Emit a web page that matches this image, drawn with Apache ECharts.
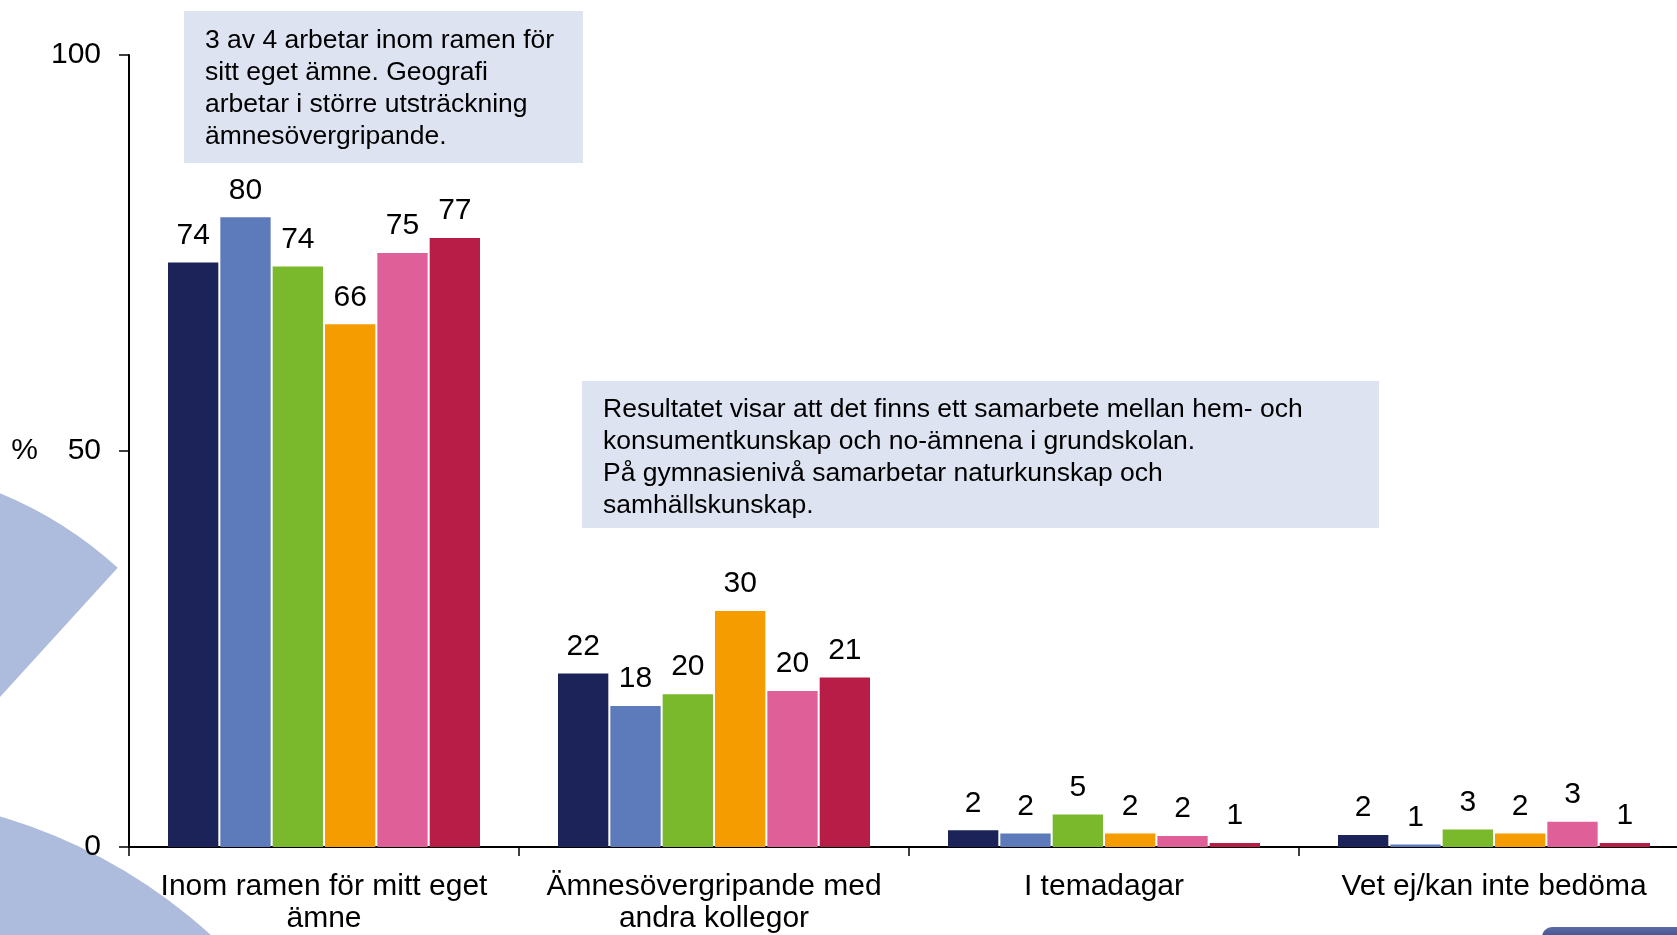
<!DOCTYPE html>
<html>
<head>
<meta charset="utf-8">
<script src="https://cdn.jsdelivr.net/npm/echarts@6/dist/echarts.min.js"></script>
<style>
  html, body { margin: 0; padding: 0; background: #fff; overflow: hidden; }
  /* plot runs slightly past the right edge of the window, like the original slide */
  #chart { width: 1692px; height: 935px; }
</style>
</head>
<body>
<div id="chart"></div>
<script>
const categories = ['Inom ramen för mitt eget\nämne', 'Ämnesövergripande med\nandra kollegor', 'I temadagar', 'Vet ej/kan inte bedöma']
const yTicks = [0, 50, 100]

// bar heights
const serie1 = [73.8, 21.9, 2.1, 1.5]
const serie2 = [79.5, 17.8, 1.7, 0.3]
const serie3 = [73.3, 19.3, 4.1, 2.2]
const serie4 = [66.0, 29.8, 1.7, 1.7]
const serie5 = [75.0, 19.7, 1.4, 3.2]
const serie6 = [76.9, 21.4, 0.5, 0.5]

// numbers printed above the bars
const label1 = [74, 22, 2, 2]
const label2 = [80, 18, 2, 1]
const label3 = [74, 20, 5, 3]
const label4 = [66, 30, 2, 2]
const label5 = [75, 20, 2, 3]
const label6 = [77, 21, 1, 1]

const colors = ['#1b2359', '#5d7aba', '#7ab82c', '#f49c00', '#df5f98', '#b81d47']

const note1 = '3 av 4 arbetar inom ramen för\nsitt eget ämne. Geografi\narbetar i större utsträckning\nämnesövergripande.'
const note2 = 'Resultatet visar att det finns ett samarbete mellan hem- och\nkonsumentkunskap och no-ämnena i grundskolan.\nPå gymnasienivå samarbetar naturkunskap och\nsamhällskunskap.'

const font = '"Liberation Sans", Arial, sans-serif'

function makeSeries(name, data, labels, color) {
  return {
    name,
    type: 'bar',
    data,
    barGap: '4%',
    barCategoryGap: '20%',
    itemStyle: { color },
    label: {
      show: true,
      position: 'top',
      distance: 12,
      fontSize: 30,
      fontFamily: font,
      color: '#000',
      formatter: (p) => String(labels[p.dataIndex])
    }
  }
}

const chart = echarts.init(document.getElementById('chart'))
chart.setOption({
  backgroundColor: '#fff',
  animation: false,
  grid: { left: 129, right: 3, top: 55, bottom: 87 },
  xAxis: {
    type: 'category',
    data: categories,
    axisLine: { lineStyle: { color: '#000', width: 2 } },
    axisTick: { show: true, length: 9, lineStyle: { color: '#000', width: 1.5 } },
    axisLabel: {
      interval: 0,
      margin: 24,
      fontSize: 30,
      lineHeight: 32,
      fontFamily: font,
      color: '#000'
    }
  },
  yAxis: {
    type: 'value',
    min: 0,
    max: 100,
    interval: 50,
    name: '%',
    nameLocation: 'middle',
    nameRotate: 0,
    nameGap: 91,
    nameTextStyle: { fontSize: 30, fontFamily: font, color: '#000', padding: [16, 0, 0, 0] },
    splitLine: { show: false },
    axisLine: { show: true, lineStyle: { color: '#000', width: 2 } },
    axisTick: { show: true, length: 10, lineStyle: { color: '#000', width: 1.5 } },
    axisLabel: {
      margin: 28,
      fontSize: 30,
      fontFamily: font,
      color: '#000',
      formatter: (v) => (yTicks.includes(v) ? String(v) : '')
    }
  },
  series: [
    makeSeries('Serie 1', serie1, label1, colors[0]),
    makeSeries('Serie 2', serie2, label2, colors[1]),
    makeSeries('Serie 3', serie3, label3, colors[2]),
    makeSeries('Serie 4', serie4, label4, colors[3]),
    makeSeries('Serie 5', serie5, label5, colors[4]),
    makeSeries('Serie 6', serie6, label6, colors[5])
  ],
  graphic: [
    // light blue background shapes on the left
    {
      type: 'sector',
      z: -10,
      silent: true,
      shape: { cx: -153, cy: 865, r: 402, r0: 0, startAngle: -Math.PI, endAngle: -0.832 },
      style: { fill: '#adbbdc' }
    },
    {
      type: 'circle',
      z: -10,
      silent: true,
      shape: { cx: -150, cy: 1330, r: 535 },
      style: { fill: '#adbbdc' }
    },
    // dark tab in the bottom right corner
    {
      type: 'rect',
      z: -10,
      silent: true,
      shape: { x: 1542, y: 927, width: 160, height: 40, r: [10, 0, 0, 0] },
      style: {
        fill: new echarts.graphic.LinearGradient(0, 0, 0, 1, [
          { offset: 0, color: '#5c6aa6' },
          { offset: 0.4, color: '#34427f' },
          { offset: 1, color: '#27336b' }
        ])
      }
    },
    // annotation boxes
    {
      type: 'rect',
      z: 10,
      shape: { x: 184, y: 11, width: 399, height: 152 },
      style: { fill: '#dee3f1' }
    },
    {
      type: 'text',
      z: 11,
      x: 205,
      y: 25,
      style: { text: note1, fontSize: 26.5, fontFamily: font, lineHeight: 32, fill: '#000', verticalAlign: 'top' }
    },
    {
      type: 'rect',
      z: 10,
      shape: { x: 582, y: 381, width: 797, height: 147 },
      style: { fill: '#dee3f1' }
    },
    {
      type: 'text',
      z: 11,
      x: 603,
      y: 394,
      style: { text: note2, fontSize: 26.5, fontFamily: font, lineHeight: 32, fill: '#000', verticalAlign: 'top' }
    }
  ]
})
</script>
</body>
</html>
